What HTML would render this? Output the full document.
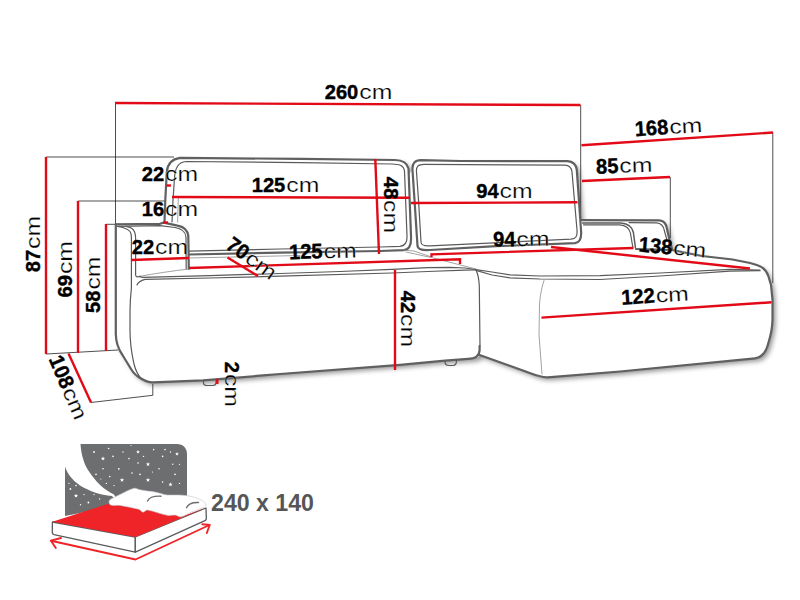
<!DOCTYPE html>
<html>
<head>
<meta charset="utf-8">
<title>Sofa dimensions</title>
<style>
html,body{margin:0;padding:0;background:#fff;}
body{width:800px;height:600px;overflow:hidden;font-family:"Liberation Sans",sans-serif;}
svg{display:block;}
.o{fill:none;stroke:#606060;stroke-width:2.2;stroke-linecap:round;stroke-linejoin:round;}
.o2{fill:none;stroke:#5a5a5a;stroke-width:1.2;stroke-linecap:round;stroke-linejoin:round;}
.o3{fill:none;stroke:#8a8a8a;stroke-width:0.8;stroke-linecap:round;stroke-linejoin:round;}
.t{fill:none;stroke:#222;stroke-width:0.8;}
.r{fill:none;stroke:#e20a17;stroke-width:2.4;stroke-linecap:butt;}
text{font-family:"Liberation Sans",sans-serif;font-size:20px;fill:#000;}
.b{font-weight:bold;font-size:21px;stroke:#000;stroke-width:0.4;}
.c{font-size:20.5px;stroke:#fff;stroke-width:0.22;paint-order:fill stroke;}
</style>
</head>
<body>
<svg width="800" height="600" viewBox="0 0 800 600">
<defs><filter id="sh" x="-5%" y="-10%" width="112%" height="125%"><feGaussianBlur in="SourceAlpha" stdDeviation="2.4" result="b"/><feOffset in="b" dx="3.2" dy="3.2" result="o"/><feComponentTransfer in="o" result="s"><feFuncA type="linear" slope="0.42"/></feComponentTransfer><feMerge><feMergeNode in="s"/><feMergeNode in="SourceGraphic"/></feMerge></filter></defs>
<rect width="800" height="600" fill="#fff"/>

<!-- ===== sofa silhouette with soft shadow ===== -->
<path id="sil" filter="url(#sh)" fill="#fff" d="M115.8 224.4L160 223.8L163.8 222.6L164.5 222L165.3 200L166.8 172C167.5 164 172 159 180 157.9L300 158.9L395 160C402 160.2 407 162 408.5 168.5L409 175L412.5 170C412 163 415 160.3 421 160.2L460 161L567.5 161.2C573 161.5 576 164 576.8 170L580.5 220.2L659 220.4C663.5 220.6 666.3 223.8 667 229L669.5 240L672 250L702 256L732.5 259.5L750 263L757.5 265.3C763 267 766.5 271 768.3 276L771 285L772.5 300V320C772.3 328 770.5 336 768.5 342.5C766.5 351 762 357.5 755 358.3L620 371.5L547.5 377.3C540 377.5 533 374.3 525 371.3L479.6 355C479 357.5 475 358.8 468 358.9L445 360.6L400 364.8L280 374L260 375.7L203 380.3L153 382.3C148 382.5 145 381 141 378.5C137 376.5 134 374 131 369L122.5 355C119 350 116 344 115.8 334Z"/>

<!-- ===== thin black helper lines ===== -->
<g class="t" id="thin">
<path d="M115.5 103V225"/>
<path d="M580.7 105V220"/>
<path d="M46 157H174"/>
<path d="M78 201H166"/>
<path d="M106 224.3H120"/>
<path d="M46 354L118 350"/>
<path d="M91 402.5L152.8 395.3V384"/>
<path d="M670.3 177V238"/>
<path d="M772.8 132.5V283"/>
</g>

<!-- ===== sofa outline ===== -->
<g id="sofa">
<!-- left arm outer edge + main seat bottom -->
<path class="o" d="M115.8 224.4V334C116 344 119 350 122.5 355L131 369C134 374 137 376.5 141 378.5C145 381 148 382.5 153 382.3L203 380.3L260 375.7L280 374L400 364.8L445 360.6L468 358.9C475 358.8 479.4 356 479.6 350V346"/>
<!-- arm top -->
<path class="o" d="M115.8 224.4L160 223.8L163.8 222.6L177.5 225.6C183 226.5 187.5 230 188.3 236L188.8 268.8"/>
<path class="o2" d="M117.5 226.4L160 225.6L175 227.5C181 228.5 185.5 231.5 186 237L186.2 268.8"/>
<!-- arm front face -->
<path class="o2" d="M117.5 226.5C123 227.3 128 229 130 231.5C131 233 131.4 235 131.4 237V288C130.5 296 130 304 130 312V330C130 342 131.5 353 134 364C135.5 370 138 375 141 378.5"/>
<path class="o2" d="M126 226.3C130 226.8 133.5 229 134.6 232C135.3 234 135.6 236 135.6 238V275C136 277.5 138 277.2 140 276.3"/>
<!-- seat top -->
<path class="o3" d="M140 276.3C155 273.5 172 271 188.8 269"/>
<path class="o2" d="M138.8 276.3L142.5 277.3L210 275.6L280 273.5L340 271.5L392 269.3L427.5 267.6L450 267.3L465 268L476 269.6"/>
<path class="o2" d="M137 285C138 282.5 141 280.5 145 279.4L210 278L280 276.2L392 273L427.5 271.5L465 270.1L476 270"/>
<path class="o2" d="M476 270C478 274 479 280 479.3 286L480 346"/>
<!-- back cushion left -->
<path class="o" d="M164.5 222L165.3 200L166.8 172C167.5 164 172 159 180 157.9L300 158.9L395 160C402 160.2 407 162 408.5 168.5L411 236C411.5 244 410 249.5 404 250.2L380 251L280 252.7L188.8 254.5"/>
<path class="o2" d="M172 222L173 200L174.5 178C175 168 178 162 186 161.5L300 162.6L392 164C399 164.2 403.5 165 404.5 171L407 236C407.3 242 405.5 245.8 400 246.3L380 247L280 249L188.8 251.2"/>
<path class="o3" d="M188.8 258L300 255.5"/>
<path class="o3" d="M178.3 198L177.6 222"/>
<!-- back cushion right -->
<path class="o" d="M417.5 246L414.5 200L412.5 170C412 163 415 160.3 421 160.2L460 161L567.5 161.2C573 161.5 576 164 576.8 170L581 230C581.8 238 580.5 242.5 575 243.2L496 246.2L430 250C423 250.5 418 250 417.5 246Z"/>
<path class="o2" d="M421 242L418.5 200L416.5 172C416 166.5 418 164.3 424 164.3L565 165.2C569 165.3 571.3 167 572 172L577 230C577.5 236 576 238.8 571 239.2L494 242.8L430 245.8C424 246.2 421.3 245.5 421 242Z"/>
<path class="o3" d="M406 252L432.5 257.8L476 269"/>
<path class="o3" d="M404 250.2L414 251L430 256.5"/>
<!-- chaise top-front edge -->
<path class="o2" d="M476 269.6L492 272L510 274.8L540 276L600 275.6L660 273L730 269.4L760 270.2"/>
<path class="o2" d="M476 270.3L492 275L510 277.8L540 279L600 279.5L660 276L730 271.2L760 270.7"/>
<!-- chaise outer -->
<path class="o" d="M636 249L672 250L702 256L732.5 259.5L750 263L757.5 265.3C763 267 766.5 271 768.3 276L771 285L772.5 300V320C772.3 328 770.5 336 768.5 342.5C766.5 351 762 357.5 755 358.3L620 371.5L547.5 377.3C540 377.5 533 374.3 525 371.3L479.6 355"/>
<path class="o3" d="M544 280.5C541.5 288 540 296 539.5 305L539 335L542 374"/>
<!-- chaise arm pieces -->
<path class="o" d="M581.5 220.2L659 220.4C663.5 220.6 666.3 223.8 667 229L669.5 240L672 249"/>
<path class="o2" d="M629 222.6L656.5 222.8C661 223 663.5 226 664.3 230.5L667 240"/>
<path class="o2" style="stroke-width:1.5" d="M582.5 222.9L621 222.9C628 223.5 632.4 227 633.4 232.5L635.4 247.5"/>
<path class="o2" d="M583.5 224.8L619.5 224.8C626 225.3 629.4 228.2 630.4 233L632.8 247"/>
<!-- legs -->
<path class="o2" d="M203.5 380.5V383C203.5 385 205 385.5 207 385.5H213C215 385.5 216 384.5 216 382.5V379.8"/>
<path class="o2" d="M445 361.5C445 364 446.5 365.5 449 365.5H453C455.5 365.5 456.5 364 456.5 360.5"/>
</g>

<!-- ===== red dimension lines ===== -->
<g class="r" id="red">
<path d="M115 103L580.5 105"/>
<path d="M581.5 145.3L773 132.5"/>
<path d="M582 181L670 177"/>
<path d="M46 157V354"/>
<path d="M78 201V353"/>
<path d="M106 224V351"/>
<path d="M68.5 353.5L91 402.5"/>
<path d="M172 197L410 197.7"/>
<path d="M375.3 159L379 254"/>
<path d="M411 203L577.5 202.3"/>
<path d="M431.5 257V254.3L633.5 248"/>
<path d="M551 247L750 268.5"/>
<path d="M541.5 317.6L771.5 302.3"/>
<path d="M189 268L460 259.3V264"/>
<path d="M227.5 257.5L258 276"/>
<path d="M131 260L189 258"/>
<path d="M395 270V370"/>
<path d="M163.5 222.5H168"/>
<path d="M166.5 185.5H171"/>
<path d="M217.3 379V384"/>
</g>

<!-- ===== labels ===== -->
<g id="labels">
<g transform="translate(325.5,99.5)"><text class="b" x="-0.8" y="-0.4" textLength="33.6" lengthAdjust="spacingAndGlyphs">260</text><text class="c" x="33.8" y="-0.4" textLength="33" lengthAdjust="spacingAndGlyphs">cm</text></g>
<g transform="translate(636,136.5) rotate(-3.5)"><text class="b" x="-0.8" y="-0.4" textLength="33.6" lengthAdjust="spacingAndGlyphs">168</text><text class="c" x="33.8" y="-0.4" textLength="33" lengthAdjust="spacingAndGlyphs">cm</text></g>
<g transform="translate(597,174) rotate(-2)"><text class="b" x="-0.8" y="-0.4" textLength="22.4" lengthAdjust="spacingAndGlyphs">85</text><text class="c" x="22.6" y="-0.4" textLength="33" lengthAdjust="spacingAndGlyphs">cm</text></g>
<g transform="translate(252.5,192.5)"><text class="b" x="-0.8" y="-0.4" textLength="33.6" lengthAdjust="spacingAndGlyphs">125</text><text class="c" x="33.8" y="-0.4" textLength="33" lengthAdjust="spacingAndGlyphs">cm</text></g>
<g transform="translate(383.3,177.5) rotate(90)"><text class="b" x="-0.8" y="-0.4" textLength="22.4" lengthAdjust="spacingAndGlyphs">48</text><text class="c" x="22.6" y="-0.4" textLength="33" lengthAdjust="spacingAndGlyphs">cm</text></g>
<g transform="translate(477,198)"><text class="b" x="-0.8" y="-0.4" textLength="22.4" lengthAdjust="spacingAndGlyphs">94</text><text class="c" x="22.6" y="-0.4" textLength="33" lengthAdjust="spacingAndGlyphs">cm</text></g>
<g transform="translate(494,247) rotate(-1)"><text class="b" x="-0.8" y="-0.4" textLength="22.4" lengthAdjust="spacingAndGlyphs">94</text><text class="c" x="22.6" y="-0.4" textLength="33" lengthAdjust="spacingAndGlyphs">cm</text></g>
<g transform="translate(639,252) rotate(5)"><text class="b" x="-0.8" y="-0.4" textLength="33.6" lengthAdjust="spacingAndGlyphs">138</text><text class="c" x="33.8" y="-0.4" textLength="33" lengthAdjust="spacingAndGlyphs">cm</text></g>
<g transform="translate(622.5,305) rotate(-3.5)"><text class="b" x="-0.8" y="-0.4" textLength="33.6" lengthAdjust="spacingAndGlyphs">122</text><text class="c" x="33.8" y="-0.4" textLength="33" lengthAdjust="spacingAndGlyphs">cm</text></g>
<g transform="translate(290,259.5) rotate(-1.5)"><text class="b" x="-0.8" y="-0.4" textLength="33.6" lengthAdjust="spacingAndGlyphs">125</text><text class="c" x="33.8" y="-0.4" textLength="33" lengthAdjust="spacingAndGlyphs">cm</text></g>
<g transform="translate(225.2,248.3) rotate(36)"><text class="b" x="-0.8" y="-0.4" textLength="22.4" lengthAdjust="spacingAndGlyphs">70</text><text class="c" x="22.6" y="-0.4" textLength="33" lengthAdjust="spacingAndGlyphs">cm</text></g>
<g transform="translate(132.5,254.5)"><text class="b" x="-0.8" y="-0.4" textLength="22.4" lengthAdjust="spacingAndGlyphs">22</text><text class="c" x="22.6" y="-0.4" textLength="33" lengthAdjust="spacingAndGlyphs">cm</text></g>
<g transform="translate(142.5,216.5)"><text class="b" x="-0.8" y="-0.4" textLength="22.4" lengthAdjust="spacingAndGlyphs">16</text><text class="c" x="22.6" y="-0.4" textLength="33" lengthAdjust="spacingAndGlyphs">cm</text></g>
<g transform="translate(142.5,181.5)"><text class="b" x="-0.8" y="-0.4" textLength="22.4" lengthAdjust="spacingAndGlyphs">22</text><text class="c" x="22.6" y="-0.4" textLength="33" lengthAdjust="spacingAndGlyphs">cm</text></g>
<g transform="translate(40.5,271.5) rotate(-90)"><text class="b" x="-0.8" y="-0.4" textLength="22.4" lengthAdjust="spacingAndGlyphs">87</text><text class="c" x="22.6" y="-0.4" textLength="33" lengthAdjust="spacingAndGlyphs">cm</text></g>
<g transform="translate(72.8,296.7) rotate(-90)"><text class="b" x="-0.8" y="-0.4" textLength="22.4" lengthAdjust="spacingAndGlyphs">69</text><text class="c" x="22.6" y="-0.4" textLength="33" lengthAdjust="spacingAndGlyphs">cm</text></g>
<g transform="translate(100.2,312.2) rotate(-90)"><text class="b" x="-0.8" y="-0.4" textLength="22.4" lengthAdjust="spacingAndGlyphs">58</text><text class="c" x="22.6" y="-0.4" textLength="33" lengthAdjust="spacingAndGlyphs">cm</text></g>
<g transform="translate(400.8,291.5) rotate(90)"><text class="b" x="-0.8" y="-0.4" textLength="22.4" lengthAdjust="spacingAndGlyphs">42</text><text class="c" x="22.6" y="-0.4" textLength="33" lengthAdjust="spacingAndGlyphs">cm</text></g>
<g transform="translate(224.5,362.5) rotate(90)"><text class="b" x="-0.8" y="-0.4" textLength="11.2" lengthAdjust="spacingAndGlyphs">2</text><text class="c" x="11.4" y="-0.4" textLength="33" lengthAdjust="spacingAndGlyphs">cm</text></g>
<g transform="translate(48.5,360) rotate(67)"><text class="b" x="-0.8" y="-0.4" textLength="33.6" lengthAdjust="spacingAndGlyphs">108</text><text class="c" x="33.8" y="-0.4" textLength="33" lengthAdjust="spacingAndGlyphs">cm</text></g>
<text x="211" y="511" style="font-weight:bold;font-size:23px;fill:#555658" textLength="103" lengthAdjust="spacingAndGlyphs">240 x 140</text>
</g>

<!-- ===== bed icon ===== -->
<g id="bed">
<!-- night sky -->
<path fill="#6d6e70" d="M80.5 444H177C183 444 187 448 187 454V505H120L114 494.5C104 490 95 481 88 470C83 462 81 452 80.5 444Z"/>
<path fill="#6d6e70" d="M65 466.5C67 473 72 480 80 485.5C89 491 100 495 112 496L120 505L65 516Z"/>
<g fill="#fff">
<circle cx="94" cy="452" r="0.9"/><circle cx="108.6" cy="448.5" r="0.8"/><path d="M103.00 456.40L103.54 457.85L105.09 457.92L103.88 458.89L104.29 460.38L103.00 459.52L101.71 460.38L102.12 458.89L100.91 457.92L102.46 457.85Z"/><circle cx="113" cy="456.4" r="0.8"/>
<circle cx="123" cy="452" r="0.7"/><circle cx="129" cy="458.6" r="0.8"/><path d="M138.00 450.00L138.49 451.32L139.90 451.38L138.80 452.26L139.18 453.62L138.00 452.84L136.82 453.62L137.20 452.26L136.10 451.38L137.51 451.32Z"/><circle cx="131" cy="445.5" r="0.6"/>
<circle cx="143.5" cy="456.4" r="0.7"/><circle cx="153.6" cy="449.6" r="0.8"/><path d="M148.00 462.10L148.54 463.55L150.09 463.62L148.88 464.59L149.29 466.08L148.00 465.22L146.71 466.08L147.12 464.59L145.91 463.62L147.46 463.55Z"/><circle cx="162.6" cy="456.4" r="0.8"/>
<circle cx="165" cy="449.6" r="0.8"/><circle cx="170.5" cy="452" r="0.7"/><path d="M177.00 452.00L177.49 453.32L178.90 453.38L177.80 454.26L178.18 455.62L177.00 454.84L175.82 455.62L176.20 454.26L175.10 453.38L176.51 453.32Z"/><circle cx="172.8" cy="464.3" r="0.7"/>
<circle cx="179.5" cy="464.3" r="0.6"/><circle cx="159" cy="468.8" r="0.8"/><circle cx="138" cy="463" r="0.8"/><circle cx="118.8" cy="468.8" r="0.9"/>
<circle cx="103" cy="468.8" r="0.8"/><circle cx="96" cy="474.4" r="0.8"/><circle cx="109.8" cy="476.6" r="0.8"/><path d="M122.00 477.70L122.57 479.22L124.19 479.29L122.92 480.30L123.35 481.86L122.00 480.97L120.65 481.86L121.08 480.30L119.81 479.29L121.43 479.22Z"/>
<circle cx="132" cy="473" r="0.8"/><circle cx="140" cy="474.4" r="0.8"/><path d="M148.00 477.70L148.57 479.22L150.19 479.29L148.92 480.30L149.35 481.86L148.00 480.97L146.65 481.86L147.08 480.30L145.81 479.29L147.43 479.22Z"/><circle cx="162.6" cy="482" r="0.8"/>
<path d="M170.50 482.30L171.04 483.75L172.59 483.82L171.38 484.79L171.79 486.28L170.50 485.42L169.21 486.28L169.62 484.79L168.41 483.82L169.96 483.75Z"/><circle cx="175" cy="474.4" r="0.8"/><circle cx="179.5" cy="483.4" r="0.7"/><circle cx="152.5" cy="472" r="0.6"/>
<circle cx="114" cy="485.6" r="0.7"/><circle cx="100.8" cy="479" r="0.6"/><circle cx="106.4" cy="483.4" r="0.7"/>
<circle cx="70.4" cy="489" r="0.9"/><circle cx="76" cy="485.6" r="0.8"/><path d="M76.00 493.60L76.54 495.05L78.09 495.12L76.88 496.09L77.29 497.58L76.00 496.72L74.71 497.58L75.12 496.09L73.91 495.12L75.46 495.05Z"/><circle cx="84" cy="494.6" r="0.7"/>
<circle cx="88.4" cy="502.5" r="0.9"/><circle cx="94" cy="494.6" r="0.7"/><circle cx="80.5" cy="504.8" r="0.7"/><circle cx="99.6" cy="499" r="0.7"/><circle cx="69" cy="483.4" r="0.6"/>
</g>
<!-- mattress -->
<path fill="#fff" stroke="#5a5b5d" stroke-width="1.3" stroke-linejoin="round" d="M52.4 522L135.3 537V552.2L54 534.6C52.8 534.3 52.3 533.4 52.3 532.3Z"/>
<path fill="#fff" stroke="#5a5b5d" stroke-width="1.3" stroke-linejoin="round" d="M135.3 537L206 508L206.3 518.3C206.4 519.4 206 520.2 205 520.6L135.3 552.2Z"/>
<path fill="#ee2428" d="M52.4 521.8L107.5 504L120 505L150 510L183 516L206 507.8L135.3 537Z"/>
<!-- bedding -->
<path fill="#fff" stroke="#c4c5c7" stroke-width="0.6" stroke-linejoin="round" d="M110 504.7C108.5 502.5 108.8 500.5 110.5 499.3C113.5 497.5 117 496 120.5 494.3C125 492 130 489.5 134 488.3C136 487.8 138 489.3 140 489.8C145 491 150 491 155 492C159 492.8 163 494.5 167 495C171 495.3 175 494.8 179 495C182 495.2 185 495.3 188 495.8C192 496.5 196.5 497.8 200 499.5C202.5 500.8 205 502 206 504C206.3 505.5 205 507 203 507.8L191 512.3L183.5 516C182 516.8 180.5 517 179 516.7C178 516.3 177.2 515.4 176 515.2C173 514.8 170 515.8 167 515.2C160 513.8 153.5 511 147.5 510C146 509.8 144.5 512.3 143 512.2C141.5 512 140.3 509.6 138.5 509.2C132.5 507.8 126.5 506.5 120.5 505.5C117 505 112.5 506 110 504.7Z"/>
<path fill="none" stroke="#6d6e70" stroke-width="1.4" stroke-linecap="round" d="M147.5 501C149 497.5 155 496 161 496.2"/>
<path fill="none" stroke="#6d6e70" stroke-width="1.4" stroke-linecap="round" d="M186.5 507.7C188 504 193 502.3 198.5 502.5"/>
<!-- arrows -->
<g fill="none" stroke="#ee2428" stroke-width="1.9" stroke-linecap="round" stroke-linejoin="round">
<path d="M51 540.7L135.5 559.5L209.5 525"/>
<path d="M61 538L51 540.7L55.8 548"/>
<path d="M202.3 524.3L209.7 525L206.8 533"/>
</g>
</g>
</svg>
</body>
</html>
